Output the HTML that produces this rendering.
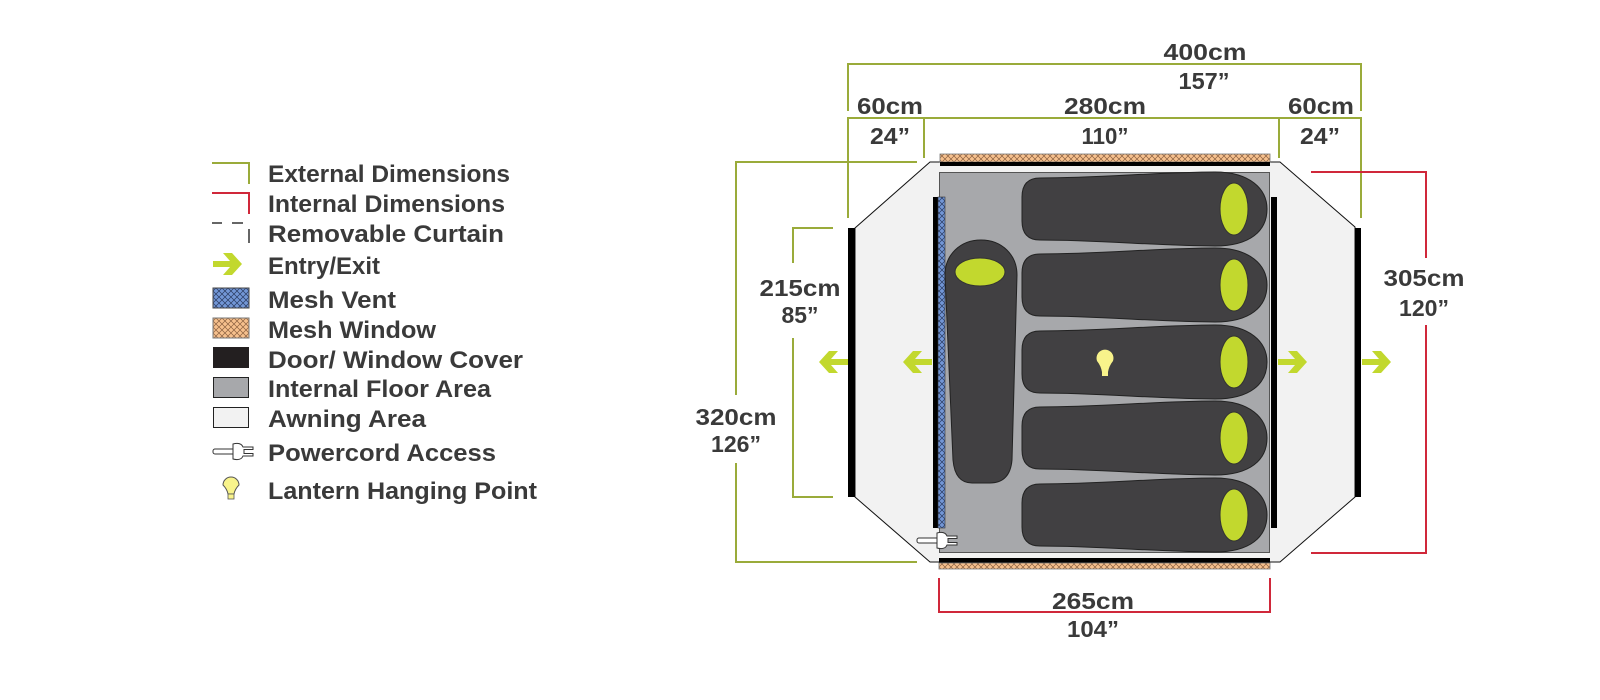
<!DOCTYPE html>
<html><head><meta charset="utf-8"><style>
html,body{margin:0;padding:0;background:#fff;}
svg{display:block;}
text{font-family:"Liberation Sans",sans-serif;font-weight:bold;fill:#3a3a3a;}
</style></head><body>
<svg width="1600" height="700" viewBox="0 0 1600 700" xmlns="http://www.w3.org/2000/svg">
<defs>
<pattern id="po" width="6" height="6" patternUnits="userSpaceOnUse">
<rect width="6" height="6" fill="#f6c08d"/>
<path d="M0,0 L6,6 M6,0 L0,6" stroke="#8a6040" stroke-width="0.7"/>
</pattern>
<pattern id="pb" width="6" height="6" patternUnits="userSpaceOnUse">
<rect width="6" height="6" fill="#7296d6"/>
<path d="M0,0 L6,6 M6,0 L0,6" stroke="#2a3a60" stroke-width="0.7"/>
</pattern>
<g id="bag">
<path d="M1040,-31 C1100,-31 1160,-37 1215,-37 C1250,-37 1267,-20 1267,0 C1267,22 1250,37 1215,37 C1160,37 1100,31 1040,31 Q1022,31 1022,12 L1022,-12 Q1022,-31 1040,-31 Z" fill="#414042" stroke="#222" stroke-width="1"/>
<ellipse cx="1234" cy="0" rx="14" ry="26" fill="#c2d82e" stroke="#333" stroke-width="1"/>
</g>
<g id="arrR">
<path d="M0,-3 L17,-3 L10,-11 L19,-11 L29,0 L19,11 L10,11 L17,3 L0,3 Z" fill="#c2d82e"/>
</g>
</defs>

<!-- Legend -->
<g fill="none" stroke-width="2">
<path d="M212,163 H249 V184" stroke="#9aab3a"/>
<path d="M212,193 H249 V214" stroke="#d0283a"/>
</g>
<path d="M212,223 H222 M232,223 H243" stroke="#333" stroke-width="1.5"/>
<path d="M249,229 V243" stroke="#333" stroke-width="1.5"/>
<use href="#arrR" x="213" y="264"/>
<rect x="213" y="288" width="36" height="20" fill="url(#pb)" stroke="#444" stroke-width="1"/>
<rect x="213" y="318" width="36" height="20" fill="url(#po)" stroke="#777" stroke-width="1"/>
<rect x="213" y="347" width="36" height="21" fill="#231f20"/>
<rect x="213.5" y="377.5" width="35" height="20" fill="#a7a8ab" stroke="#222" stroke-width="1"/>
<rect x="213.5" y="407.5" width="35" height="20" fill="#f2f2f2" stroke="#222" stroke-width="1"/>
<g transform="translate(213,442)" fill="#fff" stroke="#333" stroke-width="1">
<rect x="0" y="7" width="22" height="5" rx="2"/>
<path d="M20,2 Q28,0 30,5 L40,5 L40,7.5 L31,7.5 L31,11.5 L40,11.5 L40,14 L30,14 Q28,19 20,17 Z"/>
</g>
<g transform="translate(231,480)">
<path d="M-8,5 A8,8 0 1 1 8,5 Q4,9 3,14 L-3,14 Q-4,9 -8,5 Z" fill="#f8f38b" stroke="#555" stroke-width="1"/>
<rect x="-3" y="14" width="6" height="5" fill="#f8f38b" stroke="#555" stroke-width="0.8"/>
</g>
<g font-size="24">
<text x="268" y="182" textLength="242" lengthAdjust="spacingAndGlyphs">External Dimensions</text>
<text x="268" y="212" textLength="237" lengthAdjust="spacingAndGlyphs">Internal Dimensions</text>
<text x="268" y="242" textLength="236" lengthAdjust="spacingAndGlyphs">Removable Curtain</text>
<text x="268" y="274" textLength="112" lengthAdjust="spacingAndGlyphs">Entry/Exit</text>
<text x="268" y="308" textLength="128" lengthAdjust="spacingAndGlyphs">Mesh Vent</text>
<text x="268" y="338" textLength="168" lengthAdjust="spacingAndGlyphs">Mesh Window</text>
<text x="268" y="368" textLength="255" lengthAdjust="spacingAndGlyphs">Door/ Window Cover</text>
<text x="268" y="397" textLength="223" lengthAdjust="spacingAndGlyphs">Internal Floor Area</text>
<text x="268" y="427" textLength="158" lengthAdjust="spacingAndGlyphs">Awning Area</text>
<text x="268" y="461" textLength="228" lengthAdjust="spacingAndGlyphs">Powercord Access</text>
<text x="268" y="499" textLength="269" lengthAdjust="spacingAndGlyphs">Lantern Hanging Point</text>
</g>

<!-- Green external dims -->
<g fill="none" stroke="#9aab3a" stroke-width="2">
<path d="M848,111 V64 H1361 V111"/>
<path d="M848,218 V118 H1361 V218"/>
<path d="M924,118 V158"/>
<path d="M1279,118 V158"/>
<path d="M917,162 H736 V395"/>
<path d="M736,463 V562 H917"/>
<path d="M833,228 H793 V263"/>
<path d="M793,338 V497 H833"/>
</g>
<!-- Red internal dims -->
<g fill="none" stroke="#d0283a" stroke-width="2">
<path d="M1311,172 H1426 V258"/>
<path d="M1426,325 V553 H1311"/>
<path d="M939,578 V612 H1270 V578"/>
</g>

<!-- Tent -->
<path d="M930,162 L1280,162 L1355,227 L1355,497 L1280,562 L930,562 L855,497 L855,228 Z" fill="#f2f2f2" stroke="#111" stroke-width="1"/>
<rect x="939.5" y="172.5" width="330" height="380" fill="#a7a8ab" stroke="#555" stroke-width="1"/>
<rect x="940" y="154" width="330" height="8" fill="url(#po)" stroke="#777" stroke-width="0.8"/>
<rect x="940" y="162" width="330" height="4" fill="#000"/>
<rect x="939" y="558" width="331" height="5" fill="#000"/>
<rect x="939" y="563" width="331" height="6" fill="url(#po)" stroke="#777" stroke-width="0.8"/>
<rect x="848" y="228" width="7" height="269" fill="#000"/>
<rect x="1355" y="228" width="6" height="269" fill="#000"/>
<rect x="933" y="197" width="5" height="331" fill="#000"/>
<rect x="938" y="197" width="7" height="331" fill="url(#pb)" stroke="#333" stroke-width="0.6"/>
<rect x="1271" y="197" width="6" height="331" fill="#000"/>

<!-- Bags -->
<use href="#bag" transform="translate(0,209)"/>
<use href="#bag" transform="translate(0,285)"/>
<use href="#bag" transform="translate(0,362)"/>
<use href="#bag" transform="translate(0,438)"/>
<use href="#bag" transform="translate(0,515)"/>
<path d="M945,275 C945,255 960,240 981,240 C1002,240 1017,255 1017,275 L1012,460 Q1010,483 990,483 L972,483 Q955,483 953,460 Z" fill="#414042" stroke="#222" stroke-width="1"/>
<ellipse cx="980" cy="272" rx="25" ry="14" fill="#c2d82e" stroke="#333" stroke-width="1"/>

<!-- Lantern -->
<g transform="translate(1105,356)">
<path d="M-8,5 A8.5,8.5 0 1 1 8,5 Q4,10 3,16 L-3,16 Q-4,10 -8,5 Z" fill="#f8f38b"/>
<rect x="-3" y="16" width="6" height="4" fill="#f8f38b"/>
</g>

<!-- Plug -->
<g transform="translate(917,532)" fill="#fff" stroke="#333" stroke-width="1">
<rect x="0" y="6" width="22" height="5" rx="2"/>
<path d="M20,1 Q28,-1 30,4 L40,4 L40,6.5 L31,6.5 L31,10.5 L40,10.5 L40,13 L30,13 Q28,18 20,16 Z"/>
</g>

<!-- Arrows -->
<use href="#arrR" transform="translate(848,362) scale(-1,1)"/>
<use href="#arrR" transform="translate(932,362) scale(-1,1)"/>
<use href="#arrR" transform="translate(1278,362)"/>
<use href="#arrR" transform="translate(1362,362)"/>

<!-- Dimension text -->
<g font-size="23" text-anchor="middle">
<text x="1205" y="60" textLength="83" lengthAdjust="spacingAndGlyphs">400cm</text>
<text x="1204" y="89" textLength="51" lengthAdjust="spacingAndGlyphs">157”</text>
<text x="890" y="114" textLength="66" lengthAdjust="spacingAndGlyphs">60cm</text>
<text x="890" y="144" textLength="40" lengthAdjust="spacingAndGlyphs">24”</text>
<text x="1105" y="114" textLength="82" lengthAdjust="spacingAndGlyphs">280cm</text>
<text x="1105" y="144" textLength="47" lengthAdjust="spacingAndGlyphs">110”</text>
<text x="1321" y="114" textLength="66" lengthAdjust="spacingAndGlyphs">60cm</text>
<text x="1320" y="144" textLength="40" lengthAdjust="spacingAndGlyphs">24”</text>
<text x="800" y="296" textLength="81" lengthAdjust="spacingAndGlyphs">215cm</text>
<text x="800" y="323" textLength="37" lengthAdjust="spacingAndGlyphs">85”</text>
<text x="736" y="425" textLength="81" lengthAdjust="spacingAndGlyphs">320cm</text>
<text x="736" y="452" textLength="50" lengthAdjust="spacingAndGlyphs">126”</text>
<text x="1424" y="286" textLength="81" lengthAdjust="spacingAndGlyphs">305cm</text>
<text x="1424" y="316" textLength="50" lengthAdjust="spacingAndGlyphs">120”</text>
<text x="1093" y="609" textLength="82" lengthAdjust="spacingAndGlyphs">265cm</text>
<text x="1093" y="637" textLength="52" lengthAdjust="spacingAndGlyphs">104”</text>
</g>
</svg>
</body></html>
